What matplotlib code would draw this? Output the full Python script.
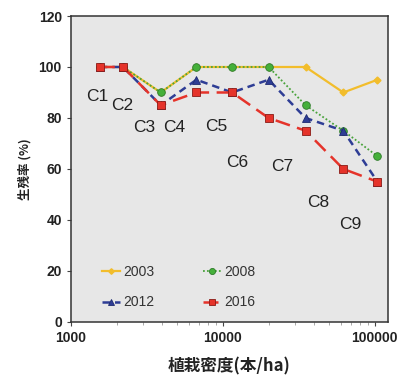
import matplotlib.pyplot as plt
from matplotlib.ticker import FixedLocator, FixedFormatter, LogLocator, NullFormatter

plt.rcParams['font.family'] = ['Liberation Sans', 'Noto Sans CJK JP', 'DejaVu Sans']

# planting density (trees/ha) for plots C1..C9
density = [1550, 2200, 3900, 6700, 11500, 20000, 35000, 62000, 104000]
plots = ['C1', 'C2', 'C3', 'C4', 'C5', 'C6', 'C7', 'C8', 'C9']

# survival rate (%) by survey year
surv_2003 = [100, 100, 90, 100, 100, 100, 100, 90, 95]
surv_2008 = [100, 100, 90, 100, 100, 100, 85, 75, 65]
surv_2012 = [100, 100, 85, 95, 90, 95, 80, 75, 55]
surv_2016 = [100, 100, 85, 90, 90, 80, 75, 60, 55]

# where the plot names are written
label_x = [1480, 2170, 3030, 4780, 9060, 12480, 24700, 42100, 68400]
label_y = [88.5, 85, 76.4, 76.4, 76.8, 62.6, 61, 46.9, 38.2]

fig = plt.figure(figsize=(4.05, 3.81), dpi=100)
ax = fig.add_axes([0.175, 0.155, 0.783, 0.803])
ax.set_facecolor('#e7e7e7')

l03, = ax.plot(density, surv_2003, color='#f2bd2c', lw=1.6, marker='D', ms=3.5,
               label='2003', zorder=2)
l08, = ax.plot(density, surv_2008, color='#4aa33c', lw=1.3, ls=(0, (1, 1.2)), marker='o',
               ms=5.5, mfc='#45b03a', mec='#2e7a2a', mew=0.6, label='2008', zorder=3)
l12, = ax.plot(density, surv_2012, color='#2e3d95', lw=1.8, ls=(0, (3, 2)), marker='^',
               ms=5.5, mfc='#2e3d95', mec='#1e2a70', mew=0.6, label='2012', zorder=4)
l16, = ax.plot(density, surv_2016, color='#e5332a', lw=1.8, ls=(0, (6, 3)), marker='s',
               ms=6, mfc='#e5332a', mec='#8a1b16', mew=0.6, label='2016', zorder=5)

for lx, ly, name in zip(label_x, label_y, plots):
    ax.text(lx, ly, name, fontsize=12.5, ha='center', va='center', color='#222222')

ax.set_xscale('log')
ax.set_xlim(1000, 122000)
ax.set_ylim(0, 120)
ax.xaxis.set_major_locator(FixedLocator([1000, 10000, 100000]))
ax.xaxis.set_major_formatter(FixedFormatter(['1000', '10000', '100000']))
ax.xaxis.set_minor_locator(LogLocator(base=10, subs=range(2, 10)))
ax.xaxis.set_minor_formatter(NullFormatter())
ax.set_yticks(range(0, 121, 20))

ax.tick_params(axis='both', which='major', labelsize=10, length=3, width=0.8,
               color='#444444', direction='out', labelcolor='#222222')
ax.tick_params(axis='x', which='minor', length=2.5, width=0.6, color='#999999')
for lbl in ax.get_xticklabels() + ax.get_yticklabels():
    lbl.set_fontweight('bold')
for sp in ax.spines.values():
    sp.set_color('#333333')
    sp.set_linewidth(1.1)

ax.set_xlabel('植栽密度(本/ha)', fontsize=12, fontweight='bold', color='#222222',
              family=['Noto Sans CJK JP'], labelpad=9)
ax.set_ylabel('生残率 (%)', fontsize=9, fontweight='bold', color='#222222',
              family=['Noto Sans CJK JP', 'Liberation Sans'], labelpad=5)

# two rows: 2003 / 2008 on top, 2012 / 2016 below
ax.legend([l03, l12, l08, l16], ['2003', '2012', '2008', '2016'],
          loc='lower left', bbox_to_anchor=(0.06, 0.0), ncol=2, frameon=False,
          fontsize=10, handlelength=1.3, handletextpad=0.2, columnspacing=3.5,
          labelspacing=1.2, markerscale=0.8, labelcolor='#333333')

fig.savefig('out.png', dpi=100)
